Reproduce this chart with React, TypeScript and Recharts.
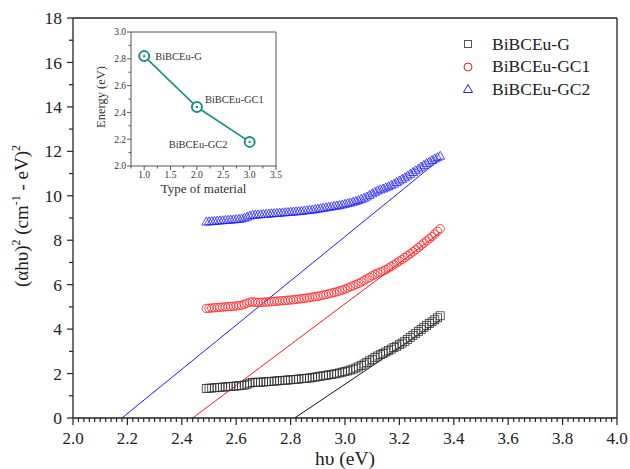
import React from 'react';
import {
  ComposedChart,
  LineChart,
  Line,
  Scatter,
  XAxis,
  YAxis,
  Legend,
  ReferenceLine,
  LabelList,
} from 'recharts';

// ---------------- data ----------------
const hv = [
  2.49, 2.50, 2.51, 2.52, 2.53, 2.54, 2.55, 2.56, 2.57, 2.58,
  2.59, 2.60, 2.61, 2.62, 2.63, 2.64, 2.65, 2.66, 2.67, 2.68,
  2.69, 2.70, 2.71, 2.72, 2.73, 2.74, 2.75, 2.76, 2.77, 2.78,
  2.79, 2.80, 2.81, 2.82, 2.83, 2.84, 2.85, 2.86, 2.87, 2.88,
  2.89, 2.90, 2.91, 2.92, 2.93, 2.94, 2.95, 2.96, 2.97, 2.98,
  2.99, 3.00, 3.01, 3.02, 3.03, 3.04, 3.05, 3.06, 3.07, 3.08,
  3.09, 3.10, 3.11, 3.12, 3.13, 3.14, 3.15, 3.16, 3.17, 3.18,
  3.19, 3.20, 3.21, 3.22, 3.23, 3.24, 3.25, 3.26, 3.27, 3.28,
  3.29, 3.30, 3.31, 3.32, 3.33, 3.34, 3.35,
];

const gValues = [
  1.33, 1.34, 1.35, 1.36, 1.37, 1.38, 1.39, 1.40, 1.41, 1.42,
  1.43, 1.44, 1.45, 1.46, 1.48, 1.52, 1.57, 1.60, 1.61, 1.61,
  1.61, 1.62, 1.63, 1.64, 1.65, 1.66, 1.67, 1.68, 1.69, 1.70,
  1.71, 1.72, 1.73, 1.74, 1.75, 1.77, 1.78, 1.79, 1.80, 1.82,
  1.84, 1.86, 1.88, 1.90, 1.92, 1.94, 1.96, 1.98, 2.00, 2.03,
  2.06, 2.09, 2.12, 2.16, 2.20, 2.25, 2.30, 2.36, 2.43, 2.50,
  2.57, 2.64, 2.72, 2.79, 2.85, 2.91, 2.97, 3.03, 3.10, 3.17,
  3.23, 3.30, 3.37, 3.45, 3.54, 3.63, 3.72, 3.81, 3.90, 3.99,
  4.08, 4.17, 4.25, 4.33, 4.42, 4.51, 4.60,
];

const gc1Values = [
  4.93, 4.94, 4.95, 4.96, 4.97, 4.98, 4.99, 5.00, 5.01, 5.02,
  5.03, 5.04, 5.06, 5.08, 5.12, 5.17, 5.21, 5.22, 5.21, 5.20,
  5.20, 5.21, 5.22, 5.23, 5.24, 5.25, 5.26, 5.27, 5.28, 5.29,
  5.30, 5.31, 5.32, 5.34, 5.35, 5.37, 5.38, 5.40, 5.42, 5.44,
  5.46, 5.48, 5.50, 5.53, 5.56, 5.59, 5.62, 5.65, 5.68, 5.72,
  5.76, 5.80, 5.85, 5.90, 5.95, 6.00, 6.06, 6.12, 6.19, 6.26,
  6.33, 6.40, 6.46, 6.52, 6.57, 6.62, 6.68, 6.75, 6.82, 6.90,
  6.98, 7.06, 7.14, 7.22, 7.30, 7.39, 7.48, 7.57, 7.67, 7.77,
  7.87, 7.97, 8.07, 8.17, 8.28, 8.40, 8.52,
];

const gc2Values = [
  8.84, 8.85, 8.86, 8.87, 8.88, 8.89, 8.90, 8.91, 8.92, 8.93,
  8.94, 8.95, 8.96, 8.98, 9.01, 9.06, 9.11, 9.14, 9.15, 9.16,
  9.17, 9.18, 9.19, 9.20, 9.21, 9.22, 9.23, 9.24, 9.25, 9.26,
  9.27, 9.28, 9.29, 9.30, 9.31, 9.32, 9.34, 9.35, 9.37, 9.38,
  9.40, 9.42, 9.44, 9.46, 9.48, 9.50, 9.52, 9.54, 9.56, 9.58,
  9.61, 9.64, 9.67, 9.70, 9.73, 9.77, 9.81, 9.86, 9.91, 9.97,
  10.04, 10.11, 10.18, 10.24, 10.29, 10.33, 10.38, 10.43, 10.49, 10.55,
  10.62, 10.69, 10.76, 10.83, 10.91, 10.99, 11.07, 11.15, 11.23, 11.31,
  11.39, 11.47, 11.54, 11.61, 11.68, 11.74, 11.80,
];

// linear fits (Tauc extrapolation): [start, end] points
const fitGx = [2.815, 3.35];
const fitGy = [0, 4.4];
const fitGC1x = [2.44, 3.35];
const fitGC1y = [0, 8.35];
const fitGC2x = [2.18, 3.35];
const fitGC2y = [0, 11.65];

const seriesNames = ['BiBCEu-G', 'BiBCEu-GC1', 'BiBCEu-GC2'];

const xMajorTicks = [2.0, 2.2, 2.4, 2.6, 2.8, 3.0, 3.2, 3.4, 3.6, 3.8, 4.0];
const yMajorTicks = [0, 2, 4, 6, 8, 10, 12, 14, 16, 18];

// inset data
const insetTypes = [1, 2, 3];
const insetEnergy = [2.82, 2.44, 2.18];
const insetLabels = ['BiBCEu-G', 'BiBCEu-GC1', 'BiBCEu-GC2'];
const insetXMajor = [1.0, 1.5, 2.0, 2.5, 3.0, 3.5];
const insetYMajor = [2.0, 2.2, 2.4, 2.6, 2.8, 3.0];

// ---------------- build tables ----------------
const gData = hv.map((x, i) => ({ x, y: gValues[i] }));
const gc1Data = hv.map((x, i) => ({ x, y: gc1Values[i] }));
const gc2Data = hv.map((x, i) => ({ x, y: gc2Values[i] }));
const fitG = fitGx.map((x, i) => ({ x, y: fitGy[i] }));
const fitGC1 = fitGC1x.map((x, i) => ({ x, y: fitGC1y[i] }));
const fitGC2 = fitGC2x.map((x, i) => ({ x, y: fitGC2y[i] }));
const insetData = insetTypes.map((t, i) => ({ t, e: insetEnergy[i], label: insetLabels[i] }));

const xMinorTicks: number[] = [];
for (let i = 0; i <= 100; i++) xMinorTicks.push(Math.round((2 + i * 0.02) * 100) / 100);
const yMinorTicks: number[] = [];
for (let i = 0; i <= 18; i++) yMinorTicks.push(i);
const insetXTicks: number[] = [];
for (let i = 0; i <= 11; i++) insetXTicks.push(0.75 + i * 0.25);
const insetYTicks: number[] = [];
for (let i = 0; i <= 10; i++) insetYTicks.push(Math.round((2 + i * 0.1) * 10) / 10);

// ---------------- styling ----------------
const FONT = '"Liberation Serif", "Times New Roman", serif';
const AXIS = '#222';
const BLACK = '#333';
const RED = '#ff1a1a';
const BLUE = '#1f1fff';
const TEAL = '#1b8c86';

const near = (a: number, b: number) => Math.abs(a - b) < 1e-6;

const MainXTick = (props: any) => {
  const { x, y, payload } = props;
  const v = payload.value;
  const major = xMajorTicks.some((m) => near(m, v));
  return (
    <g>
      <line x1={x} x2={x} y1={y} y2={y + (major ? 7 : 4)} stroke={AXIS} strokeWidth={1.2} />
      {major && (
        <text x={x} y={y + 26} textAnchor="middle" fontSize={17} fontFamily={FONT} fill="#222">
          {v.toFixed(1)}
        </text>
      )}
    </g>
  );
};

const MainYTick = (props: any) => {
  const { x, y, payload } = props;
  const v = payload.value;
  const major = yMajorTicks.some((m) => near(m, v));
  return (
    <g>
      <line x1={x} x2={x - (major ? 6 : 4)} y1={y} y2={y} stroke={AXIS} strokeWidth={1.2} />
      {major && (
        <text x={x - 11} y={y} dy="0.35em" textAnchor="end" fontSize={17.5} fontFamily={FONT} fill="#222">
          {v}
        </text>
      )}
    </g>
  );
};

const InsetXTick = (props: any) => {
  const { x, y, payload } = props;
  const v = payload.value;
  const major = insetXMajor.some((m) => near(m, v));
  return (
    <g>
      <line x1={x} x2={x} y1={y} y2={y + (major ? 4 : 2.5)} stroke="#555" strokeWidth={1} />
      {major && (
        <text x={x} y={y + 12} textAnchor="middle" fontSize={9.5} fontFamily={FONT} fill="#333">
          {v.toFixed(1)}
        </text>
      )}
    </g>
  );
};

const InsetYTick = (props: any) => {
  const { x, y, payload } = props;
  const v = payload.value;
  const major = insetYMajor.some((m) => near(m, v));
  return (
    <g>
      <line x1={x} x2={x - (major ? 4 : 2.5)} y1={y} y2={y} stroke="#555" strokeWidth={1} />
      {major && (
        <text x={x - 5} y={y} dy="0.35em" textAnchor="end" fontSize={9.5} fontFamily={FONT} fill="#333">
          {v.toFixed(1)}
        </text>
      )}
    </g>
  );
};

const SquareShape = (p: any) => (
  <rect x={p.cx - 4} y={p.cy - 4} width={8} height={8} fill="none" stroke={BLACK} strokeWidth={0.8} />
);
const CircleShape = (p: any) => (
  <circle cx={p.cx} cy={p.cy} r={4.2} fill="none" stroke={RED} strokeWidth={0.8} />
);
const TriangleShape = (p: any) => (
  <polygon
    points={`${p.cx},${p.cy - 4.5} ${p.cx - 4.5},${p.cy + 3.5} ${p.cx + 4.5},${p.cy + 3.5}`}
    fill="none"
    stroke={BLUE}
    strokeWidth={0.8}
  />
);

const legendMarkers = [
  <rect key="s" x={6.5} y={6.5} width={7} height={7} fill="none" stroke="#555" strokeWidth={1} />,
  <circle key="c" cx={10} cy={10} r={4} fill="none" stroke={RED} strokeWidth={1} />,
  <polygon key="t" points="10,5.5 5.5,13.5 14.5,13.5" fill="none" stroke={BLUE} strokeWidth={1} />,
];

const LegendContent = () => (
  <div style={{ fontFamily: FONT, fontSize: 17.5, color: '#222' }}>
    {seriesNames.map((name, i) => (
      <div key={name} style={{ display: 'flex', alignItems: 'center', height: 22.5 }}>
        <svg width={20} height={20} style={{ display: 'block' }}>
          {legendMarkers[i]}
        </svg>
        <span style={{ marginLeft: 14, whiteSpace: 'nowrap' }}>{name}</span>
      </div>
    ))}
  </div>
);

const YLabel = () => {
  const cx = 28;
  const cy = 216;
  return (
    <text
      x={cx}
      y={cy}
      transform={`rotate(-90 ${cx} ${cy})`}
      textAnchor="middle"
      fontSize={19}
      fontFamily={FONT}
      fill="#222"
    >
      <tspan>(αhυ)</tspan>
      <tspan dy={-8} fontSize={12}>2</tspan>
      <tspan dy={8}> (cm</tspan>
      <tspan dy={-8} fontSize={12}>-1</tspan>
      <tspan dy={8}> - eV)</tspan>
      <tspan dy={-8} fontSize={12}>2</tspan>
    </text>
  );
};

const XLabel = (props: any) => {
  const vb = props.viewBox;
  return (
    <text x={vb.x + vb.width / 2} y={vb.y + 47} textAnchor="middle" fontSize={19.5} fontFamily={FONT} fill="#222">
      hυ (eV)
    </text>
  );
};

const InsetXLabel = (props: any) => {
  const vb = props.viewBox;
  return (
    <text x={vb.x + vb.width / 2} y={vb.y + 27} textAnchor="middle" fontSize={13} fontFamily={FONT} fill="#333">
      Type of material
    </text>
  );
};

const InsetYLabel = () => {
  const cx = 15;
  const cy = 75;
  return (
    <text x={cx} y={cy} transform={`rotate(-90 ${cx} ${cy})`} textAnchor="middle" fontSize={12.5} fontFamily={FONT} fill="#333">
      Energy (eV)
    </text>
  );
};

const InsetPointLabel = (props: any) => {
  const { x, y, index, value } = props;
  const offs = [
    { dx: 11, dy: 4, anchor: 'start' },
    { dx: 8, dy: -4, anchor: 'start' },
    { dx: -22, dy: 6, anchor: 'end' },
  ][index];
  return (
    <text x={x + offs.dx} y={y + offs.dy} textAnchor={offs.anchor} fontSize={10.5} fontFamily={FONT} fill="#333">
      {value}
    </text>
  );
};

const InsetDot = (props: any) => {
  const { cx, cy } = props;
  return (
    <g>
      <circle cx={cx} cy={cy} r={5} fill="#fff" stroke={TEAL} strokeWidth={2} />
      <circle cx={cx} cy={cy} r={1.2} fill={TEAL} />
    </g>
  );
};

export default function App() {
  return (
    <div style={{ position: 'absolute', left: 0, top: 0, width: 630, height: 469, background: '#fff' }}>
      <ComposedChart width={630} height={469} margin={{ top: 18, right: 13, bottom: 0, left: 0 }}>
        <XAxis
          type="number"
          dataKey="x"
          domain={[2, 4]}
          ticks={xMinorTicks}
          interval={0}
          tickSize={0}
          tickMargin={0}
          tickLine={false}
          tick={<MainXTick />}
          height={51}
          stroke={AXIS}
          strokeWidth={1.3}
          allowDataOverflow
          label={<XLabel />}
        />
        <YAxis
          type="number"
          dataKey="y"
          domain={[0, 18]}
          ticks={yMinorTicks}
          interval={0}
          tickSize={0}
          tickMargin={0}
          tickLine={false}
          tick={<MainYTick />}
          width={73}
          stroke={AXIS}
          strokeWidth={1.3}
          allowDataOverflow
          label={<YLabel />}
        />
        <ReferenceLine y={18} stroke={AXIS} strokeWidth={1.3} />
        <ReferenceLine x={4} stroke={AXIS} strokeWidth={1.3} />
        <Scatter name={seriesNames[0]} data={gData} shape={SquareShape} isAnimationActive={false} />
        <Scatter name={seriesNames[1]} data={gc1Data} shape={CircleShape} isAnimationActive={false} />
        <Scatter name={seriesNames[2]} data={gc2Data} shape={TriangleShape} isAnimationActive={false} />
        <Line data={fitG} dataKey="y" type="linear" stroke="#111" strokeWidth={1} dot={false} isAnimationActive={false} legendType="none" />
        <Line data={fitGC1} dataKey="y" type="linear" stroke={RED} strokeWidth={1} dot={false} isAnimationActive={false} legendType="none" />
        <Line data={fitGC2} dataKey="y" type="linear" stroke={BLUE} strokeWidth={1} dot={false} isAnimationActive={false} legendType="none" />
        <Legend
          layout="horizontal"
          verticalAlign="middle"
          align="center"
          content={<LegendContent />}
          wrapperStyle={{ top: 33, left: 458, width: 160, height: 70 }}
        />
      </ComposedChart>

      <div style={{ position: 'absolute', left: 90, top: 22 }}>
        <LineChart width={200} height={190} data={insetData} margin={{ top: 10, right: 14, bottom: 0, left: 0 }}>
          <XAxis
            type="number"
            dataKey="t"
            domain={[0.75, 3.5]}
            ticks={insetXTicks}
            interval={0}
            tickSize={0}
            tickMargin={0}
            tickLine={false}
            tick={<InsetXTick />}
            height={46}
            stroke="#555"
            allowDataOverflow
            label={<InsetXLabel />}
          />
          <YAxis
            type="number"
            domain={[2, 3]}
            ticks={insetYTicks}
            interval={0}
            tickSize={0}
            tickMargin={0}
            tickLine={false}
            tick={<InsetYTick />}
            width={41}
            stroke="#555"
            allowDataOverflow
            label={<InsetYLabel />}
          />
          <ReferenceLine y={3} stroke="#555" />
          <ReferenceLine x={3.5} stroke="#555" />
          <Line dataKey="e" type="linear" stroke={TEAL} strokeWidth={1.6} dot={<InsetDot />} isAnimationActive={false}>
            <LabelList dataKey="label" content={<InsetPointLabel />} />
          </Line>
        </LineChart>
      </div>
    </div>
  );
}
